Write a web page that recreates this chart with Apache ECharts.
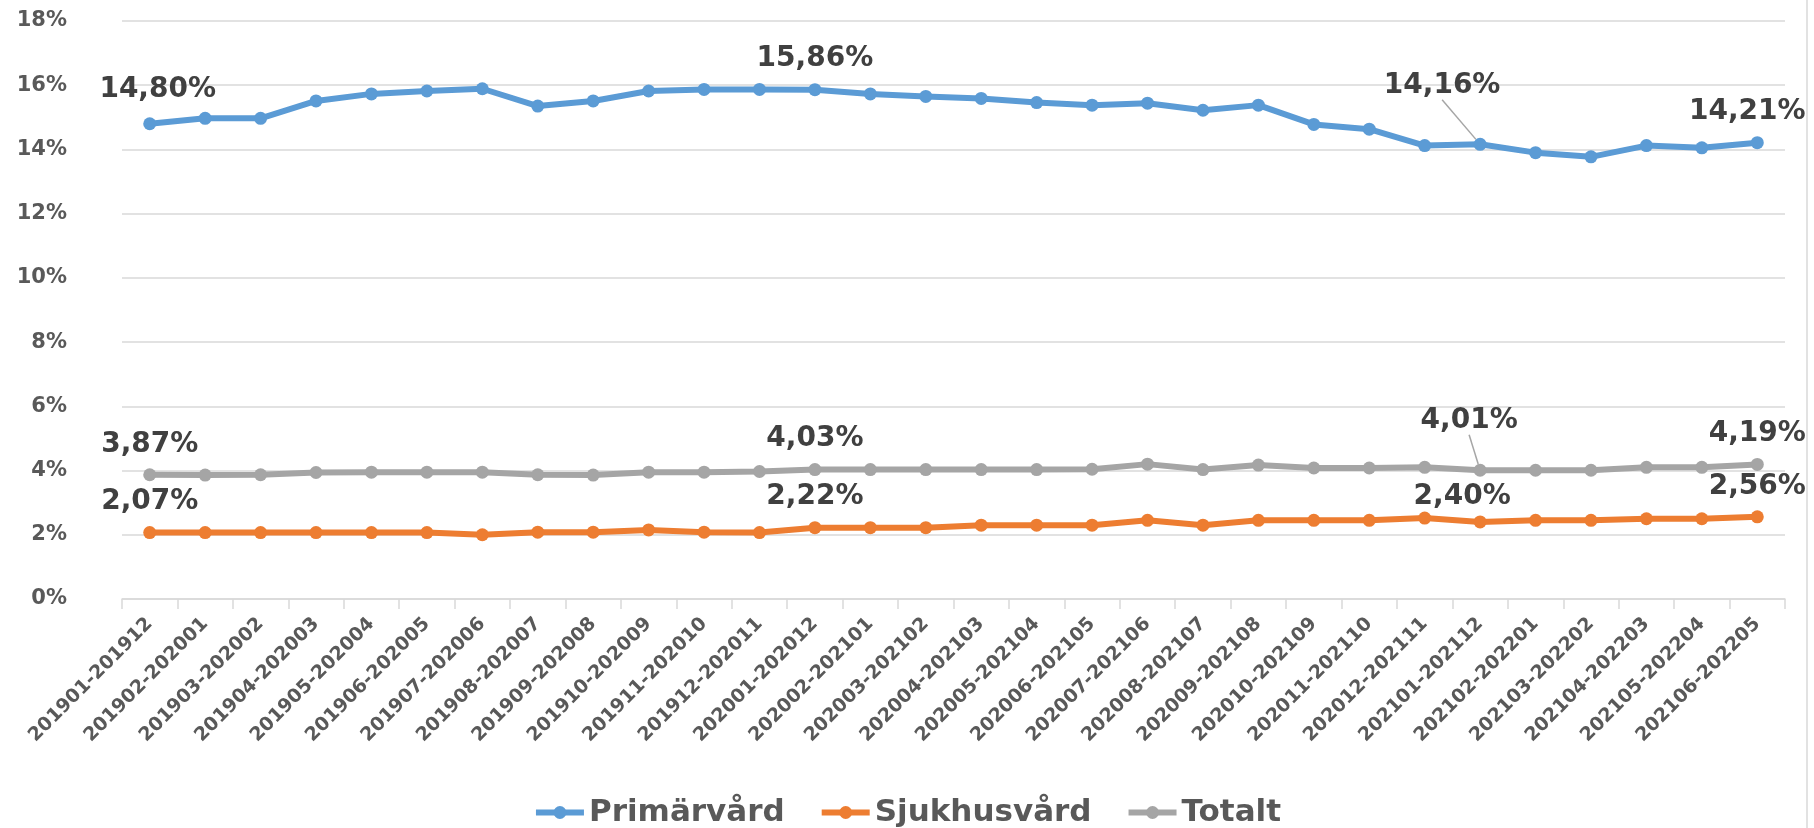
<!DOCTYPE html>
<html>
<head>
<meta charset="utf-8">
<script src="https://cdn.jsdelivr.net/npm/echarts@6/dist/echarts.min.js"></script>
<style>
  html, body { margin: 0; padding: 0; background: #fff; }
  #chart { width: 1814px; height: 828px; }
</style>
</head>
<body>
<div id="chart"></div>
<script>
// perioder (rullande 12 månader)
const categories = [
  '201901-201912', '201902-202001', '201903-202002', '201904-202003', '201905-202004',
  '201906-202005', '201907-202006', '201908-202007', '201909-202008', '201910-202009',
  '201911-202010', '201912-202011', '202001-202012', '202002-202101', '202003-202102',
  '202004-202103', '202005-202104', '202006-202105', '202007-202106', '202008-202107',
  '202009-202108', '202010-202109', '202011-202110', '202012-202111', '202101-202112',
  '202102-202201', '202103-202202', '202104-202203', '202105-202204', '202106-202205'
];
const primarvard = [
  14.80, 14.97, 14.97, 15.51, 15.73, 15.82, 15.89, 15.35, 15.51, 15.82,
  15.87, 15.87, 15.86, 15.73, 15.65, 15.59, 15.46, 15.38, 15.44, 15.22,
  15.38, 14.78, 14.63, 14.12, 14.16, 13.90, 13.77, 14.12, 14.05, 14.21
];
const sjukhusvard = [
  2.07, 2.07, 2.07, 2.07, 2.07, 2.07, 2.00, 2.08, 2.08, 2.15,
  2.08, 2.07, 2.22, 2.22, 2.22, 2.30, 2.30, 2.30, 2.45, 2.30,
  2.45, 2.45, 2.45, 2.52, 2.40, 2.45, 2.45, 2.50, 2.50, 2.56
];
const totalt = [
  3.87, 3.86, 3.87, 3.94, 3.95, 3.95, 3.95, 3.87, 3.86, 3.95,
  3.95, 3.97, 4.03, 4.03, 4.03, 4.03, 4.03, 4.04, 4.20, 4.03,
  4.17, 4.08, 4.08, 4.10, 4.01, 4.01, 4.01, 4.10, 4.10, 4.19
];
const labelIdx = [0, 12, 24, 29];
// etikettförskjutningar [serie][index] -> [dx, dy]
const labelShift = {
  0: { 0: [8, -4], 24: [-38, -28], 29: [-10, 0] },
  1: { 24: [-18, 5] },
  2: { 24: [-11, -19] }
};
// ledarlinjer
const leader = { 0: [24], 2: [24] };

const font = '"DejaVu Sans", sans-serif';
const fmt = v => v.toFixed(2).replace('.', ',') + '%';

function makeSeries(name, values, color, si) {
  const data = values.map((v, i) => {
    if (!labelIdx.includes(i)) return v;
    return {
      value: v,
      label: { show: true },
      labelLine: { show: (leader[si] || []).includes(i) }
    };
  });
  return {
    name: name,
    type: 'line',
    data: data,
    symbol: 'circle',
    symbolSize: 13,
    lineStyle: { width: 6, color: color },
    itemStyle: { color: color },
    label: {
      show: false,
      position: 'top',
      distance: 10,
      fontFamily: font,
      fontWeight: 'bold',
      fontSize: 28,
      color: '#404040',
      formatter: p => fmt(p.value)
    },
    labelLine: { show: false, lineStyle: { color: '#a6a6a6', width: 1.5 } },
    labelLayout: function (p) {
      const s = labelShift[si] && labelShift[si][p.dataIndex];
      return s ? { dx: s[0], dy: s[1] } : {};
    },
    emphasis: { disabled: true },
    animation: false
  };
}

const chart = echarts.init(document.getElementById('chart'));
chart.setOption({
  backgroundColor: '#fff',
  grid: { left: 122, right: 29, top: 21, bottom: 229 },
  graphic: [{
    type: 'line',
    shape: { x1: 1807, y1: 0, x2: 1807, y2: 828 },
    style: { stroke: '#d9d9d9', lineWidth: 1.5 }
  }],
  legend: {
    top: 792,
    left: 'center',
    itemWidth: 48,
    itemHeight: 16,
    itemGap: 34,
    lineStyle: { width: 6 },
    textStyle: { fontFamily: font, fontWeight: 'bold', fontSize: 31, color: '#595959' },
    data: ['Primärvård', 'Sjukhusvård', 'Totalt']
  },
  xAxis: {
    type: 'category',
    data: categories,
    boundaryGap: true,
    axisLine: { lineStyle: { color: '#d9d9d9', width: 1.5 } },
    axisTick: { show: true, length: 10, lineStyle: { color: '#d9d9d9', width: 1.5 } },
    axisLabel: {
      interval: 0,
      rotate: 45,
      margin: 22,
      fontFamily: font,
      fontWeight: 'bold',
      fontSize: 19,
      color: '#595959'
    }
  },
  yAxis: {
    type: 'value',
    min: 0,
    max: 18,
    interval: 2,
    axisLine: { show: false },
    axisTick: { show: false },
    splitLine: { lineStyle: { color: '#d9d9d9', width: 1.5 } },
    axisLabel: {
      formatter: '{value}%',
      margin: 55,
      fontFamily: font,
      fontWeight: 'bold',
      fontSize: 21,
      color: '#595959'
    }
  },
  series: [
    makeSeries('Primärvård', primarvard, '#5b9bd5', 0),
    makeSeries('Sjukhusvård', sjukhusvard, '#ed7d31', 1),
    makeSeries('Totalt', totalt, '#a5a5a5', 2)
  ]
});
</script>
</body>
</html>
